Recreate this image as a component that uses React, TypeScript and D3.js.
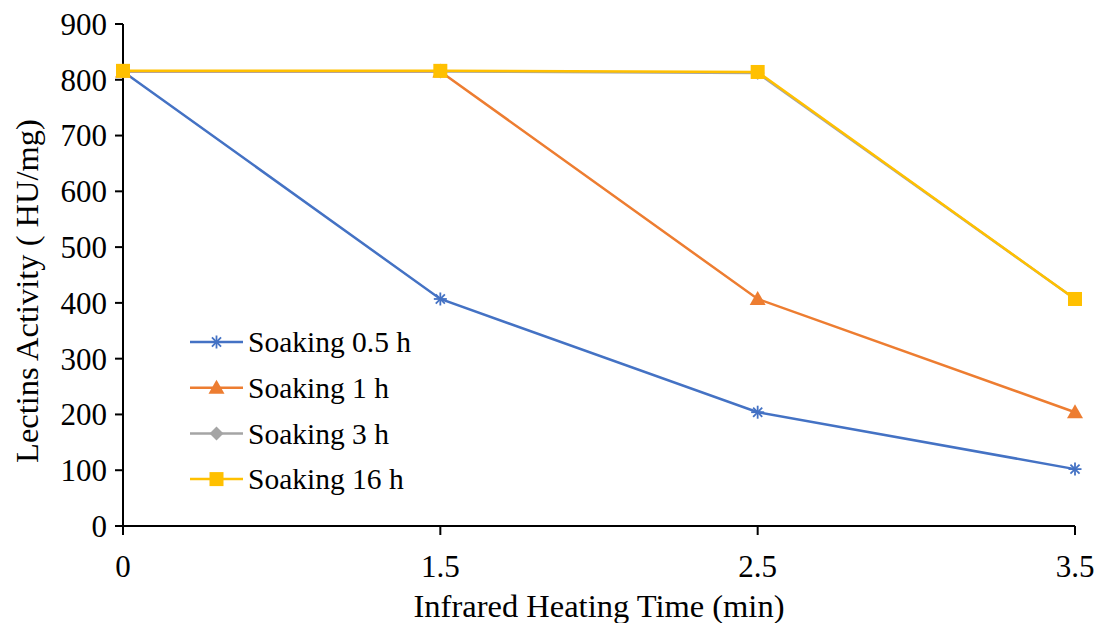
import React from "react";
import * as d3 from "d3";

const categories = ["0", "1.5", "2.5", "3.5"];
const yTicks = [0, 100, 200, 300, 400, 500, 600, 700, 800, 900];
const s05 = [815, 407, 204, 102];
const s1 = [815, 815, 407, 204];
const s3 = [815, 815, 812, 407];
const s16 = [816, 816, 814, 407];
const seriesNames = ["Soaking 0.5 h", "Soaking 1 h", "Soaking 3 h", "Soaking 16 h"];

const W = 1099, H = 623;
const FONT = "Liberation Serif";

function Marker({ type, x, y, color }: { type: string; x: number; y: number; color: string }) {
  if (type === "star") {
    const r = 6.5;
    return (
      <g stroke={color} strokeWidth={1.8}>
        <line x1={x - r} y1={y} x2={x + r} y2={y} />
        <line x1={x - r * 0.7} y1={y - r * 0.7} x2={x + r * 0.7} y2={y + r * 0.7} />
        <line x1={x - r * 0.7} y1={y + r * 0.7} x2={x + r * 0.7} y2={y - r * 0.7} />
        <line x1={x} y1={y - r} x2={x} y2={y + r} />
      </g>
    );
  }
  if (type === "tri") {
    const s = 8;
    return <path d={`M${x},${y - s}L${x + s},${y + s * 0.75}L${x - s},${y + s * 0.75}Z`} fill={color} />;
  }
  if (type === "diamond") {
    const s = 7;
    return <path d={`M${x},${y - s}L${x + s},${y}L${x},${y + s}L${x - s},${y}Z`} fill={color} />;
  }
  const s = 7;
  return <rect x={x - s} y={y - s} width={2 * s} height={2 * s} fill={color} />;
}

export default function App() {
  const x = d3.scalePoint<string>().domain(categories).range([123, 1075]);
  const y = d3.scaleLinear().domain([0, 900]).range([526, 24]);
  const series = [
    { name: seriesNames[0], values: s05, color: "#4472C4", marker: "star" },
    { name: seriesNames[1], values: s1, color: "#ED7D31", marker: "tri" },
    { name: seriesNames[2], values: s3, color: "#A5A5A5", marker: "diamond" },
    { name: seriesNames[3], values: s16, color: "#FFC000", marker: "square" },
  ];
  const line = d3
    .line<number>()
    .x((_, i) => x(categories[i]) as number)
    .y((d) => y(d));
  const tick = { fontFamily: FONT, fontSize: 31, fill: "#000" } as React.CSSProperties;
  const title = { fontFamily: FONT, fontSize: 32.5, fill: "#000" } as React.CSSProperties;
  const leg = { fontFamily: FONT, fontSize: 29.5, fill: "#000" } as React.CSSProperties;

  return (
    <svg width={W} height={H} style={{ position: "absolute", left: 0, top: 0 }}>
      <rect width={W} height={H} fill="#fff" />
      <line x1={123} y1={y(0)} x2={1075} y2={y(0)} stroke="#000" strokeWidth={2} />
      <line x1={123} y1={y(900)} x2={123} y2={y(0)} stroke="#000" strokeWidth={2} />
      {yTicks.map((t) => (
        <g key={t}>
          <line x1={115} x2={123} y1={y(t)} y2={y(t)} stroke="#000" strokeWidth={2} />
          <text x={107} y={y(t)} dy="0.35em" textAnchor="end" style={tick}>{t}</text>
        </g>
      ))}
      {categories.map((c) => (
        <g key={c}>
          <line x1={x(c)} x2={x(c)} y1={y(0)} y2={y(0) + 9} stroke="#000" strokeWidth={2} />
          <text x={x(c)} y={577} textAnchor="middle" style={tick}>{c}</text>
        </g>
      ))}
      <text x={599} y={617} textAnchor="middle" style={title}>Infrared Heating Time (min)</text>
      <text transform="translate(38,291) rotate(-90)" textAnchor="middle" style={title}>Lectins Activity ( HU/mg)</text>
      {series.map((s) => (
        <g key={s.name}>
          <path d={line(s.values) as string} fill="none" stroke={s.color} strokeWidth={2.5} />
          {s.values.map((v, i) => (
            <Marker key={i} type={s.marker} x={x(categories[i]) as number} y={y(v)} color={s.color} />
          ))}
        </g>
      ))}
      {series.map((s, i) => {
        const ly = 342 + i * 45.7;
        return (
          <g key={s.name}>
            <line x1={190} x2={243} y1={ly} y2={ly} stroke={s.color} strokeWidth={2.5} />
            <Marker type={s.marker} x={216.5} y={ly} color={s.color} />
            <text x={248} y={ly} dy="0.35em" style={leg}>{s.name}</text>
          </g>
        );
      })}
    </svg>
  );
}
